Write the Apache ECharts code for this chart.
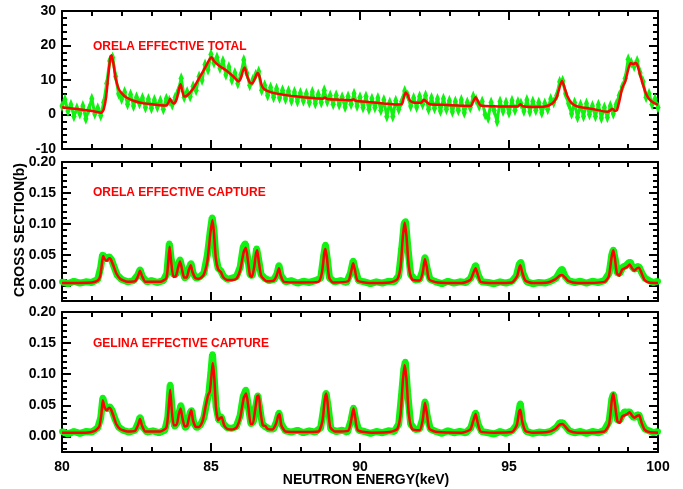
<!DOCTYPE html>
<html>
<head>
<meta charset="utf-8">
<script src="https://cdn.jsdelivr.net/npm/echarts@6/dist/echarts.min.js"></script>
<style>
  html, body { margin: 0; padding: 0; background: #fff; }
  #chart { width: 683px; height: 489px; }
</style>
</head>
<body>
<div id="chart"></div>
<script>
// Neutron cross sections, 80-100 keV: effective total (ORELA) and
// effective capture (ORELA, GELINA). Green = measured, red = fitted curve.

const panelTitles = ['ORELA EFFECTIVE TOTAL', 'ORELA EFFECTIVE CAPTURE', 'GELINA EFFECTIVE CAPTURE'];
const energyTickLabels = [80, 85, 90, 95, 100];
const totalTickLabels = [-10, 0, 10, 20, 30];
const captureMajorTicks = [0, 0.05, 0.10, 0.15, 0.20];
const captureMinorTicks = [-0.02, -0.01, 0.01, 0.02, 0.03, 0.04, 0.06, 0.07, 0.08, 0.09,
  0.11, 0.12, 0.13, 0.14, 0.16, 0.17, 0.18, 0.19];

// ORELA effective total: fitted curve [keV, b]
const totalFit = [
  [80.0,2.1],[80.5,1.6],[81.0,1.0],[81.25,0.6],[81.32,0.5],[81.40,1.5],[81.48,5.0],[81.55,11.0],
  [81.62,16.5],[81.66,17.2],[81.72,15.0],[81.80,10.5],[81.90,7.5],[82.0,6.2],[82.15,5.0],[82.4,4.0],
  [82.7,3.3],[83.0,3.0],[83.3,2.7],[83.5,2.6],[83.58,3.6],[83.63,4.6],[83.69,3.6],[83.76,3.2],
  [83.85,4.5],[83.93,7.5],[83.98,8.8],[84.03,7.0],[84.10,5.2],[84.2,5.5],[84.4,7.5],[84.6,10.5],
  [84.8,13.5],[84.95,16.0],[85.02,16.6],[85.1,15.5],[85.25,14.3],[85.5,12.8],[85.75,11.0],[85.92,9.6],
  [86.0,10.5],[86.08,12.8],[86.13,13.6],[86.2,11.5],[86.3,9.3],[86.38,9.0],[86.48,10.5],[86.56,12.0],
  [86.62,11.2],[86.7,8.5],[86.78,7.4],[87.0,6.5],[87.3,5.9],[87.7,5.4],[88.1,5.0],[88.5,4.7],
  [88.75,4.6],[88.82,4.9],[88.9,4.5],[89.3,4.3],[89.7,4.1],[89.78,4.4],[89.85,4.0],[90.3,3.6],
  [90.8,3.2],[91.2,2.9],[91.4,3.0],[91.46,4.5],[91.53,6.4],[91.6,5.6],[91.68,4.0],[91.8,3.5],
  [92.05,3.4],[92.15,4.3],[92.25,3.5],[92.35,3.0],[92.8,2.8],[93.3,2.6],[93.72,2.5],[93.8,3.8],
  [93.88,5.0],[93.95,4.0],[94.05,2.6],[94.5,2.4],[95.0,2.3],[95.3,2.3],[95.38,3.0],[95.46,2.4],
  [95.8,2.2],[96.2,2.3],[96.45,3.2],[96.6,5.0],[96.72,8.5],[96.78,9.7],[96.85,8.2],[96.95,5.5],
  [97.1,3.3],[97.3,2.3],[97.8,1.6],[98.3,0.8],[98.4,1.2],[98.47,1.7],[98.55,1.0],[98.62,1.2],
  [98.72,4.5],[98.8,7.7],[98.9,9.5],[99.0,13.0],[99.08,14.9],[99.17,14.6],[99.24,14.9],[99.3,14.5],
  [99.4,11.5],[99.5,8.5],[99.6,6.0],[99.7,4.5],[99.85,3.4],[100.0,2.8]
];

// ORELA effective total: measured points [keV, b]
const totalData = [
  [80.0,2.5],[80.1,4.3],[80.2,1.0],[80.3,2.8],[80.4,-0.5],[80.5,1.8],[80.6,0.2],[80.7,2.5],[80.8,-1.2],[80.9,1.5],
  [81.0,4.6],[81.1,0.2],[81.2,1.8],[81.3,-0.3],[81.4,3.5],[81.5,9.0],[81.6,15.5],[81.7,16.5],[81.8,11.0],[81.9,6.0],
  [82.0,4.5],[82.1,6.5],[82.2,3.0],[82.3,5.8],[82.4,2.5],[82.5,5.0],[82.6,3.2],[82.7,4.8],[82.8,2.0],[82.9,4.5],
  [83.0,1.8],[83.1,4.2],[83.2,2.2],[83.3,4.0],[83.4,1.5],[83.5,4.6],[83.6,4.0],[83.7,2.8],[83.8,5.0],[83.9,6.8],
  [84.0,10.5],[84.1,5.0],[84.2,6.5],[84.3,5.2],[84.4,8.2],[84.5,7.0],[84.6,11.0],[84.7,10.0],[84.8,14.5],[84.9,13.0],
  [85.0,17.5],[85.1,15.0],[85.2,16.5],[85.3,13.5],[85.4,15.5],[85.5,11.5],[85.6,13.8],[85.7,10.0],[85.8,12.0],[85.9,9.0],
  [86.0,11.5],[86.1,15.8],[86.2,12.0],[86.3,8.5],[86.4,10.0],[86.5,11.5],[86.6,12.5],[86.7,7.0],[86.8,8.5],[86.9,5.5],
  [87.0,7.8],[87.1,5.0],[87.2,7.5],[87.3,4.8],[87.4,7.0],[87.5,4.5],[87.6,6.8],[87.7,4.0],[87.8,6.5],[87.9,3.8],
  [88.0,6.2],[88.1,4.0],[88.2,6.0],[88.3,3.5],[88.4,6.5],[88.5,3.2],[88.6,5.8],[88.7,3.5],[88.8,7.0],[88.9,3.8],
  [89.0,5.5],[89.1,3.0],[89.2,5.6],[89.3,2.8],[89.4,5.0],[89.5,2.2],[89.6,5.2],[89.7,3.0],[89.8,6.0],[89.9,2.5],
  [90.0,5.0],[90.1,2.0],[90.2,5.2],[90.3,1.5],[90.4,4.6],[90.5,2.0],[90.6,4.8],[90.7,1.2],[90.8,4.2],[90.9,-0.6],
  [91.0,3.5],[91.1,-0.6],[91.2,4.0],[91.3,1.5],[91.4,3.8],[91.5,6.8],[91.6,5.5],[91.7,2.5],[91.8,4.8],[91.9,2.2],
  [92.0,5.2],[92.1,3.0],[92.2,5.5],[92.3,1.5],[92.4,4.8],[92.5,1.8],[92.6,4.5],[92.7,1.0],[92.8,4.6],[92.9,1.5],
  [93.0,4.0],[93.1,0.8],[93.2,3.8],[93.3,1.2],[93.4,4.2],[93.5,0.5],[93.6,3.5],[93.7,2.0],[93.8,5.2],[93.9,4.2],
  [94.0,2.5],[94.1,3.8],[94.2,0.0],[94.3,-1.0],[94.4,3.5],[94.5,1.2],[94.6,-2.0],[94.7,3.8],[94.8,1.0],[94.9,3.5],
  [95.0,0.5],[95.1,4.0],[95.2,1.2],[95.3,3.6],[95.4,3.2],[95.5,1.0],[95.6,4.2],[95.7,0.8],[95.8,3.8],[95.9,1.2],
  [96.0,3.5],[96.1,0.5],[96.2,3.2],[96.3,1.5],[96.4,4.5],[96.5,3.5],[96.6,5.5],[96.7,9.5],[96.8,9.8],[96.9,6.0],
  [97.0,3.2],[97.1,0.2],[97.2,3.5],[97.3,-0.8],[97.4,2.8],[97.5,-0.5],[97.6,3.2],[97.7,0.0],[97.8,2.5],[97.9,-0.5],
  [98.0,2.8],[98.1,-1.0],[98.2,2.0],[98.3,-0.8],[98.4,2.5],[98.5,0.2],[98.6,3.0],[98.7,5.5],[98.8,8.0],[98.9,10.5],
  [99.0,16.0],[99.1,15.0],[99.2,14.0],[99.3,15.5],[99.4,12.0],[99.5,9.5],[99.6,5.0],[99.7,6.0],[99.8,3.0],[99.9,4.5],
  [100.0,2.0]
];

// ORELA effective capture: fitted curve [keV, b]
const orelaFit = [
  [80.0,0.004],[81.0,0.005],[81.2,0.008],[81.28,0.015],[81.34,0.035],[81.38,0.048],[81.43,0.043],[81.5,0.040],
  [81.58,0.044],[81.63,0.043],[81.72,0.033],[81.82,0.020],[81.95,0.011],[82.2,0.006],[82.45,0.007],[82.55,0.015],
  [82.62,0.024],[82.68,0.016],[82.8,0.006],[83.3,0.006],[83.5,0.012],[83.56,0.035],[83.61,0.063],[83.66,0.040],
  [83.74,0.014],[83.82,0.015],[83.9,0.030],[83.96,0.039],[84.02,0.028],[84.1,0.013],[84.18,0.013],[84.26,0.026],
  [84.32,0.033],[84.38,0.022],[84.48,0.012],[84.6,0.011],[84.75,0.017],[84.88,0.040],[84.98,0.085],[85.05,0.106],
  [85.1,0.085],[85.16,0.045],[85.24,0.026],[85.33,0.022],[85.42,0.013],[85.55,0.009],[85.7,0.009],[85.85,0.011],
  [85.98,0.025],[86.1,0.055],[86.17,0.061],[86.24,0.040],[86.31,0.016],[86.37,0.014],[86.45,0.030],[86.51,0.052],
  [86.55,0.057],[86.6,0.040],[86.68,0.016],[86.78,0.010],[86.88,0.007],[87.1,0.008],[87.2,0.016],[87.28,0.028],
  [87.34,0.016],[87.45,0.006],[88.0,0.005],[88.6,0.006],[88.72,0.020],[88.8,0.052],[88.84,0.059],[88.89,0.045],
  [88.97,0.012],[89.1,0.005],[89.6,0.007],[89.7,0.022],[89.77,0.036],[89.83,0.025],[89.92,0.008],[90.3,0.004],
  [91.0,0.005],[91.25,0.010],[91.36,0.030],[91.44,0.080],[91.5,0.102],[91.56,0.080],[91.64,0.030],[91.75,0.010],
  [92.0,0.008],[92.1,0.020],[92.18,0.043],[92.24,0.030],[92.32,0.010],[92.6,0.005],[93.4,0.004],[93.7,0.009],
  [93.8,0.020],[93.88,0.028],[93.95,0.018],[94.05,0.006],[94.5,0.004],[95.1,0.005],[95.27,0.015],[95.35,0.030],
  [95.38,0.033],[95.44,0.022],[95.55,0.008],[95.8,0.004],[96.3,0.005],[96.55,0.010],[96.7,0.016],[96.78,0.017],
  [96.88,0.013],[97.0,0.007],[97.3,0.004],[98.2,0.006],[98.35,0.015],[98.44,0.045],[98.5,0.057],[98.55,0.045],
  [98.62,0.020],[98.7,0.016],[98.8,0.026],[98.88,0.028],[98.96,0.030],[99.05,0.034],[99.13,0.028],[99.2,0.024],
  [99.3,0.028],[99.36,0.029],[99.45,0.020],[99.55,0.009],[99.7,0.005],[100.0,0.004]
];

// ORELA effective capture: measured points [keV, b]
const orelaData = [
  [80.0,0.006],[80.2,0.003],[80.4,0.007],[80.6,0.004],[80.8,0.006],[81.0,0.005],[81.2,0.010],[81.3,0.030],
  [81.36,0.050],[81.42,0.046],[81.5,0.043],[81.58,0.047],[81.66,0.042],[81.75,0.030],[81.85,0.017],[82.0,0.010],
  [82.2,0.006],[82.4,0.008],[82.55,0.018],[82.62,0.026],[82.7,0.014],[82.85,0.006],[83.0,0.008],[83.2,0.005],
  [83.4,0.008],[83.52,0.020],[83.6,0.068],[83.66,0.045],[83.74,0.018],[83.82,0.018],[83.9,0.034],[83.96,0.042],
  [84.03,0.028],[84.12,0.012],[84.2,0.016],[84.28,0.030],[84.33,0.036],[84.4,0.020],[84.5,0.012],[84.62,0.014],
  [84.76,0.020],[84.88,0.050],[84.98,0.090],[85.04,0.110],[85.1,0.090],[85.16,0.048],[85.24,0.028],[85.33,0.024],
  [85.42,0.015],[85.55,0.010],[85.7,0.012],[85.85,0.014],[85.98,0.030],[86.08,0.062],[86.15,0.068],[86.24,0.042],
  [86.31,0.018],[86.38,0.016],[86.46,0.034],[86.53,0.060],[86.6,0.042],[86.68,0.018],[86.8,0.012],[86.95,0.008],
  [87.12,0.010],[87.22,0.020],[87.28,0.033],[87.35,0.016],[87.5,0.006],[87.7,0.008],[87.9,0.004],[88.1,0.007],
  [88.3,0.005],[88.5,0.008],[88.68,0.012],[88.78,0.048],[88.84,0.066],[88.9,0.044],[88.98,0.012],[89.15,0.006],
  [89.35,0.008],[89.55,0.005],[89.68,0.020],[89.77,0.040],[89.84,0.026],[89.95,0.008],[90.15,0.006],[90.35,0.003],
  [90.55,0.006],[90.75,0.004],[90.95,0.007],[91.15,0.006],[91.3,0.016],[91.4,0.060],[91.48,0.100],[91.53,0.104],
  [91.6,0.065],[91.7,0.018],[91.85,0.009],[92.0,0.010],[92.1,0.024],[92.18,0.046],[92.25,0.028],[92.35,0.010],
  [92.55,0.006],[92.75,0.003],[92.95,0.007],[93.15,0.004],[93.35,0.006],[93.55,0.005],[93.72,0.012],[93.82,0.026],
  [93.88,0.033],[93.96,0.018],[94.08,0.006],[94.3,0.005],[94.5,0.003],[94.7,0.006],[94.9,0.004],[95.1,0.007],
  [95.25,0.016],[95.34,0.034],[95.4,0.038],[95.47,0.020],[95.6,0.006],[95.8,0.003],[96.0,0.005],[96.2,0.004],
  [96.4,0.007],[96.58,0.012],[96.7,0.022],[96.78,0.027],[96.88,0.015],[97.0,0.008],[97.2,0.005],[97.4,0.007],
  [97.6,0.004],[97.8,0.007],[98.0,0.005],[98.2,0.008],[98.36,0.020],[98.45,0.050],[98.5,0.058],[98.56,0.044],
  [98.64,0.020],[98.72,0.020],[98.82,0.030],[98.92,0.032],[99.0,0.036],[99.07,0.038],[99.14,0.030],[99.22,0.026],
  [99.3,0.031],[99.37,0.030],[99.46,0.020],[99.56,0.012],[99.7,0.008],[99.85,0.005],[100.0,0.007]
];

// GELINA effective capture: fitted curve [keV, b]
const gelinaFit = [
  [80.0,0.006],[80.8,0.006],[81.1,0.009],[81.25,0.016],[81.32,0.035],[81.37,0.058],[81.42,0.048],[81.5,0.042],
  [81.58,0.046],[81.64,0.044],[81.72,0.034],[81.82,0.020],[81.95,0.012],[82.2,0.008],[82.45,0.009],[82.55,0.018],
  [82.62,0.028],[82.68,0.018],[82.8,0.008],[83.3,0.008],[83.5,0.014],[83.57,0.040],[83.63,0.075],[83.68,0.045],
  [83.75,0.018],[83.84,0.018],[83.92,0.036],[83.98,0.045],[84.04,0.030],[84.12,0.016],[84.2,0.017],[84.28,0.034],
  [84.34,0.042],[84.4,0.025],[84.5,0.015],[84.6,0.015],[84.72,0.025],[84.82,0.048],[84.9,0.066],[84.96,0.072],
  [85.02,0.100],[85.06,0.118],[85.11,0.095],[85.17,0.045],[85.24,0.026],[85.32,0.030],[85.36,0.031],[85.44,0.018],
  [85.55,0.012],[85.7,0.011],[85.85,0.014],[85.98,0.030],[86.1,0.062],[86.18,0.069],[86.26,0.045],[86.33,0.020],
  [86.4,0.020],[86.48,0.042],[86.55,0.064],[86.6,0.066],[86.66,0.040],[86.74,0.018],[86.82,0.017],[86.9,0.012],
  [87.05,0.011],[87.18,0.020],[87.26,0.034],[87.3,0.036],[87.36,0.018],[87.5,0.008],[88.0,0.007],[88.6,0.008],
  [88.74,0.025],[88.82,0.060],[88.87,0.069],[88.92,0.050],[89.0,0.015],[89.15,0.008],[89.6,0.009],[89.7,0.025],
  [89.78,0.045],[89.84,0.030],[89.93,0.010],[90.4,0.006],[91.0,0.007],[91.25,0.012],[91.36,0.035],[91.44,0.090],
  [91.5,0.115],[91.56,0.092],[91.64,0.035],[91.75,0.012],[92.0,0.010],[92.1,0.025],[92.18,0.054],[92.25,0.035],
  [92.33,0.012],[92.6,0.007],[93.4,0.006],[93.7,0.011],[93.8,0.025],[93.88,0.036],[93.95,0.022],[94.05,0.008],
  [94.5,0.006],[95.1,0.007],[95.26,0.018],[95.34,0.040],[95.38,0.043],[95.44,0.025],[95.55,0.009],[95.8,0.006],
  [96.3,0.007],[96.55,0.012],[96.7,0.019],[96.8,0.020],[96.9,0.015],[97.02,0.009],[97.3,0.006],[98.2,0.008],
  [98.36,0.020],[98.45,0.058],[98.5,0.069],[98.56,0.050],[98.64,0.024],[98.72,0.022],[98.8,0.032],[98.88,0.034],
  [98.97,0.036],[99.05,0.039],[99.12,0.034],[99.2,0.030],[99.3,0.033],[99.37,0.034],[99.45,0.022],[99.55,0.011],
  [99.7,0.007],[100.0,0.006]
];

// GELINA effective capture: measured points [keV, b]
const gelinaData = [
  [80.0,0.008],[80.2,0.004],[80.4,0.008],[80.6,0.005],[80.8,0.008],[81.0,0.007],[81.2,0.014],[81.3,0.030],
  [81.37,0.062],[81.44,0.050],[81.52,0.044],[81.6,0.048],[81.68,0.042],[81.78,0.028],[81.9,0.015],[82.05,0.010],
  [82.25,0.007],[82.45,0.010],[82.56,0.022],[82.62,0.031],[82.7,0.016],[82.85,0.007],[83.05,0.009],[83.25,0.006],
  [83.45,0.010],[83.55,0.030],[83.63,0.083],[83.7,0.040],[83.78,0.016],[83.86,0.022],[83.94,0.040],[83.99,0.050],
  [84.06,0.028],[84.14,0.014],[84.22,0.020],[84.3,0.038],[84.35,0.042],[84.42,0.022],[84.52,0.014],[84.64,0.018],
  [84.76,0.030],[84.86,0.055],[84.93,0.070],[85.0,0.105],[85.05,0.132],[85.1,0.100],[85.17,0.048],[85.26,0.026],
  [85.34,0.032],[85.42,0.020],[85.55,0.014],[85.7,0.013],[85.85,0.016],[85.98,0.034],[86.08,0.064],[86.17,0.075],
  [86.26,0.046],[86.34,0.020],[86.42,0.024],[86.5,0.048],[86.57,0.066],[86.64,0.044],[86.72,0.020],[86.82,0.016],
  [86.95,0.012],[87.1,0.012],[87.2,0.024],[87.28,0.038],[87.36,0.020],[87.5,0.009],[87.7,0.007],[87.9,0.010],
  [88.1,0.006],[88.3,0.009],[88.5,0.007],[88.68,0.014],[88.78,0.045],[88.86,0.070],[88.94,0.045],[89.02,0.012],
  [89.2,0.008],[89.4,0.010],[89.58,0.007],[89.7,0.026],[89.78,0.046],[89.86,0.026],[89.96,0.010],[90.15,0.008],
  [90.35,0.005],[90.55,0.008],[90.75,0.006],[90.95,0.009],[91.15,0.008],[91.3,0.020],[91.4,0.070],[91.47,0.108],
  [91.52,0.120],[91.6,0.070],[91.7,0.020],[91.85,0.011],[92.0,0.012],[92.1,0.028],[92.18,0.056],[92.26,0.032],
  [92.36,0.012],[92.55,0.008],[92.75,0.005],[92.95,0.009],[93.15,0.006],[93.35,0.008],[93.55,0.006],[93.72,0.014],
  [93.82,0.030],[93.88,0.038],[93.96,0.020],[94.08,0.008],[94.3,0.006],[94.5,0.004],[94.7,0.008],[94.9,0.005],
  [95.1,0.009],[95.25,0.018],[95.33,0.040],[95.38,0.053],[95.45,0.024],[95.58,0.008],[95.8,0.005],[96.0,0.007],
  [96.2,0.006],[96.4,0.008],[96.58,0.014],[96.7,0.022],[96.8,0.022],[96.9,0.016],[97.02,0.009],[97.2,0.006],
  [97.4,0.008],[97.6,0.005],[97.8,0.008],[98.0,0.006],[98.2,0.010],[98.36,0.024],[98.45,0.060],[98.5,0.068],
  [98.56,0.052],[98.64,0.026],[98.72,0.026],[98.8,0.034],[98.88,0.040],[98.96,0.038],[99.04,0.040],[99.12,0.034],
  [99.2,0.030],[99.28,0.034],[99.36,0.035],[99.45,0.022],[99.56,0.012],[99.7,0.009],[99.85,0.006],[100.0,0.008]
];

// ---- styling -------------------------------------------------------------
const BLACK = '#000000';
const GREEN = '#12f212';
const RED = '#ff0000';
const FONT = '"Liberation Sans", Arial, Helvetica, sans-serif';

const grids = [
  { left: 62, top: 11, width: 596, height: 138 },
  { left: 62, top: 162, width: 596, height: 139 },
  { left: 62, top: 312, width: 596, height: 140 }
];

const frameLine = { show: true, onZero: false, lineStyle: { color: BLACK, width: 2 } };
const majorTick = { show: true, inside: true, length: 9, lineStyle: { color: BLACK, width: 2 } };
const minorTick = { show: true, splitNumber: 5, length: 5, lineStyle: { color: BLACK, width: 2 } };
const labelFont = { color: BLACK, fontFamily: FONT, fontWeight: 'bold', fontSize: 14 };

const xAxes = [];
const yAxes = [];
grids.forEach((g, i) => {
  ['bottom', 'top'].forEach(pos => {
    xAxes.push({
      gridIndex: i, type: 'value', position: pos,
      min: energyTickLabels[0], max: energyTickLabels[energyTickLabels.length - 1], interval: 5,
      axisLine: frameLine, axisTick: majorTick, minorTick: minorTick,
      splitLine: { show: false }, minorSplitLine: { show: false },
      axisLabel: (i === 2 && pos === 'bottom')
        ? Object.assign({ show: true, margin: 8 }, labelFont)
        : { show: false }
    });
  });
});

// Total-cross-section panel: ticks every 10 b, minor every 2 b
['left', 'right'].forEach(pos => {
  yAxes.push({
    gridIndex: 0, type: 'value', position: pos,
    min: totalTickLabels[0], max: totalTickLabels[totalTickLabels.length - 1], interval: 10,
    axisLine: frameLine, axisTick: majorTick, minorTick: minorTick,
    splitLine: { show: false }, minorSplitLine: { show: false },
    axisLabel: pos === 'left' ? Object.assign({ show: true, margin: 6 }, labelFont) : { show: false }
  });
});

// Capture panels: major ticks every 0.05 b, minor every 0.01 b
const captureY = {};
[1, 2].forEach(gi => {
  captureY[gi] = yAxes.length;
  const base = { gridIndex: gi, type: 'value', min: -0.025, max: 0.20,
    splitLine: { show: false }, minorSplitLine: { show: false } };
  yAxes.push(Object.assign({}, base, {
    position: 'left', axisLine: frameLine,
    axisTick: Object.assign({}, majorTick, { customValues: captureMajorTicks }),
    axisLabel: Object.assign({ show: true, margin: 6, customValues: captureMajorTicks,
      formatter: v => v.toFixed(2) }, labelFont)
  }));
  yAxes.push(Object.assign({}, base, {
    position: 'right', axisLine: frameLine,
    axisTick: Object.assign({}, majorTick, { customValues: captureMajorTicks }),
    axisLabel: { show: false }
  }));
  ['left', 'right'].forEach(pos => {
    yAxes.push(Object.assign({}, base, {
      position: pos, axisLine: { show: false },
      axisTick: { show: true, inside: true, length: 5, customValues: captureMinorTicks,
        lineStyle: { color: BLACK, width: 2 } },
      axisLabel: { show: false }
    }));
  });
});

const series = [
  {
    // measured total: points joined by a thin trace, drawn as narrow diamonds
    type: 'line', xAxisIndex: 0, yAxisIndex: 0, data: totalData,
    symbol: 'diamond', symbolSize: [5, 12], showSymbol: true,
    itemStyle: { color: GREEN, opacity: 1 }, lineStyle: { color: GREEN, width: 3 },
    z: 2, silent: true
  },
  {
    type: 'line', xAxisIndex: 0, yAxisIndex: 0, data: totalFit, smooth: 0.2,
    showSymbol: false, lineStyle: { color: RED, width: 2.5 }, z: 3, silent: true
  },
  {
    type: 'line', xAxisIndex: 2, yAxisIndex: captureY[1], data: orelaData,
    symbol: 'circle', symbolSize: 6, showSymbol: true,
    itemStyle: { color: GREEN, opacity: 1 }, lineStyle: { color: GREEN, width: 7 }, z: 2, silent: true
  },
  {
    type: 'line', xAxisIndex: 2, yAxisIndex: captureY[1], data: orelaFit, smooth: 0.2,
    showSymbol: false, lineStyle: { color: RED, width: 2.5 }, z: 3, silent: true
  },
  {
    type: 'line', xAxisIndex: 4, yAxisIndex: captureY[2], data: gelinaData,
    symbol: 'circle', symbolSize: 6, showSymbol: true,
    itemStyle: { color: GREEN, opacity: 1 }, lineStyle: { color: GREEN, width: 7 }, z: 2, silent: true
  },
  {
    type: 'line', xAxisIndex: 4, yAxisIndex: captureY[2], data: gelinaFit, smooth: 0.2,
    showSymbol: false, lineStyle: { color: RED, width: 2.5 }, z: 3, silent: true
  }
];

const titleTops = [41, 187, 338];
const graphic = panelTitles.map((t, i) => ({
  type: 'text', left: 93, top: titleTops[i], z: 10,
  style: { text: t, fill: RED, font: 'bold 12px ' + FONT }
}));
graphic.push({
  type: 'text', x: 366, y: 480, z: 10,
  style: { text: 'NEUTRON ENERGY(keV)', fill: BLACK, font: 'bold 14px ' + FONT,
    align: 'center', verticalAlign: 'middle' }
});
graphic.push({
  type: 'text', x: 20, y: 230, rotation: Math.PI / 2, z: 10,
  style: { text: 'CROSS SECTION(b)', fill: BLACK, font: 'bold 14px ' + FONT,
    align: 'center', verticalAlign: 'middle' }
});

const chart = echarts.init(document.getElementById('chart'), null, { renderer: 'canvas' });
chart.setOption({
  animation: false,
  backgroundColor: '#ffffff',
  grid: grids,
  xAxis: xAxes,
  yAxis: yAxes,
  series: series,
  graphic: graphic
});
</script>
</body>
</html>
